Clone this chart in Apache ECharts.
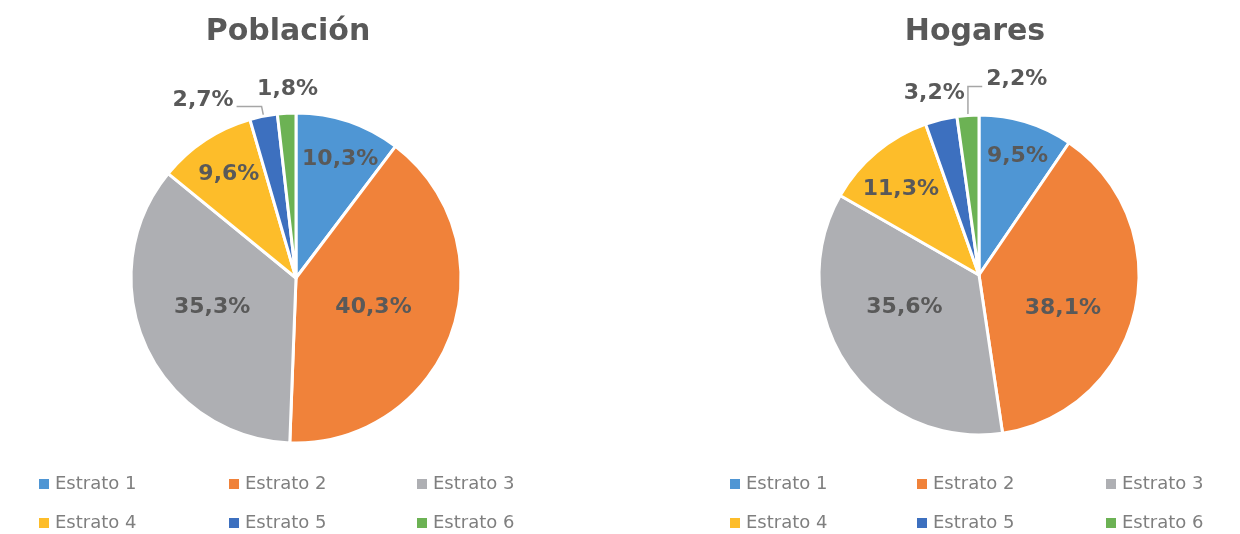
<!DOCTYPE html>
<html>
<head>
<meta charset="utf-8">
<script src="https://cdn.jsdelivr.net/npm/echarts@6/dist/echarts.min.js"></script>
<style>
  html, body { margin: 0; padding: 0; background: #fff; }
  #chart { width: 1240px; height: 534px; }
</style>
</head>
<body>
<div id="chart"></div>
<script>
// datos
const estratos = ['Estrato 1', 'Estrato 2', 'Estrato 3', 'Estrato 4', 'Estrato 5', 'Estrato 6'];
const poblacion = [10.3, 40.3, 35.3, 9.6, 2.7, 1.8];
const hogares = [9.5, 38.1, 35.6, 11.3, 3.2, 2.2];
const colores = ['#4f96d4', '#f0823a', '#aeafb3', '#fdbd2a', '#3d70bf', '#6cb254'];

const FONT = '"DejaVu Sans", sans-serif';

// geometría de cada torta + corrimiento de etiquetas (px)
const pies = [
  {
    center: [296, 278], r: 165,
    labelShift: [[17, -38], [-3, 1], [-6, -6], [-20, -32], [0, -6], [60, -14]],
    noLine: [5],
    elbowUp: -1
  },
  {
    center: [979, 275], r: 160,
    labelShift: [[14, -39], [3, 15], [-6, -15], [-25, -22], [54, -17], [108, -26]],
    noLine: [4],
    elbowUp: 5
  }
];

function fmt(v) {
  return v.toFixed(1).replace('.', ',') + '%';
}

function makeSeries(name, values, idx) {
  const p = pies[idx];
  return {
    name: name,
    type: 'pie',
    center: p.center,
    radius: [0, p.r],
    startAngle: 90,
    clockwise: true,
    avoidLabelOverlap: false,
    itemStyle: { borderColor: '#fff', borderWidth: 3 },
    label: {
      show: true,
      position: 'inside',
      formatter: function (d) { return fmt(d.value); },
      fontFamily: FONT,
      fontWeight: 'bold',
      fontSize: 22,
      color: '#595959',
      distanceToLabelLine: 3
    },
    labelLine: { show: true, length: 10, length2: 25, lineStyle: { color: '#a6a6a6', width: 1.5 } },
    labelLayout: function (params) {
      const i = params.dataIndex;
      const s = p.labelShift[i];
      const res = { dx: s[0], dy: s[1] };
      if (i === p.elbowUp && params.labelLinePoints) {
        // línea que sube y gira a la derecha hacia la etiqueta
        const a = params.labelLinePoints[0];
        const r = params.labelRect;
        const y = r.y + s[1] + r.height / 2 + 7;
        res.labelLinePoints = [a.slice(), [a[0], y], [r.x + s[0] - 4, y]];
      }
      return res;
    },
    emphasis: { disabled: true },
    data: estratos.map(function (e, i) {
      const item = { name: e, value: values[i], itemStyle: { color: colores[i] } };
      if (i >= 4) {
        item.label = { position: 'outside' };
        if (p.noLine.indexOf(i) >= 0) item.labelLine = { show: false };
      }
      return item;
    })
  };
}

// una leyenda por elemento: 3 columnas x 2 filas bajo cada torta
const legendCols = [[37, 227, 415], [728, 915, 1104]];
const legendRows = [475, 514];

function makeLegends() {
  const out = [];
  legendCols.forEach(function (cols) {
    estratos.forEach(function (e, i) {
      out.push({
        data: [e],
        left: cols[i % 3],
        top: legendRows[Math.floor(i / 3)],
        padding: 0,
        itemWidth: 12,
        itemHeight: 12,
        itemGap: 0,
        icon: 'rect',
        selectedMode: false,
        textStyle: { fontFamily: FONT, fontSize: 18, color: '#7f7f7f' }
      });
    });
  });
  return out;
}

const chart = echarts.init(document.getElementById('chart'));
chart.setOption({
  animation: false,
  color: colores,
  title: [
    { text: 'Población', left: 283, top: 12, textAlign: 'center',
      textStyle: { fontFamily: FONT, fontWeight: 'bold', fontSize: 30, color: '#595959' } },
    { text: 'Hogares', left: 970, top: 12, textAlign: 'center',
      textStyle: { fontFamily: FONT, fontWeight: 'bold', fontSize: 30, color: '#595959' } }
  ],
  legend: makeLegends(),
  series: [
    makeSeries('Población', poblacion, 0),
    makeSeries('Hogares', hogares, 1)
  ]
});
</script>
</body>
</html>
